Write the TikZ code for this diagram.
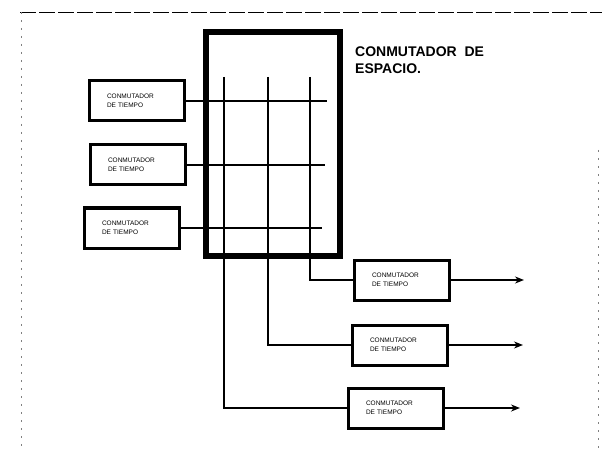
\documentclass[tikz,border=0pt]{standalone}
\usepackage{fontspec}
\setmainfont{Liberation Sans}
\usetikzlibrary{arrows.meta,calc,positioning}
\tikzset{
  tbox/.style={draw,rectangle,line width=3pt,minimum width=95pt,minimum height=40pt,text width=60pt,align=left,inner sep=0pt,font=\fontsize{6.5}{8.5}\selectfont},
  sbox/.style={draw,rectangle,line width=6pt,minimum width=134pt,minimum height=224pt},
  wire/.style={line width=2.6pt},
  frame/.style={line width=0.9pt}
}

\begin{document}
\begin{tikzpicture}[x=1pt,y=-1pt,>={Stealth[length=9pt,width=7pt]}]
  \useasboundingbox (0,0) rectangle (602,449);
  % scanned page border
  \draw[frame,dash pattern=on 16pt off 3pt] (20,12) -- (602,12);
  \draw[frame,gray,dash pattern=on 2pt off 6pt] (21,12) -- (21,449);
  \draw[frame,gray,dash pattern=on 2pt off 6pt] (598,150) -- (598,449);
  % space switch
  \node[sbox] (esp) at (273,144) {};
  \node[anchor=north west,align=left,inner sep=0pt,font=\fontsize{14}{17}\selectfont\bfseries] (titulo) at (355,47) {CONMUTADOR\ \ DE\\ESPACIO.};
  % input time switches
  \node[tbox] (ti1) at (137,101) {CONMUTADOR\\DE TIEMPO};
  \node[tbox] (ti2) at (138,165) {CONMUTADOR\\DE TIEMPO};
  \node[tbox] (ti3) at (132,228) {CONMUTADOR\\DE TIEMPO};
  \coordinate (h1) at (327,101);
  \coordinate (h2) at (325,165);
  \coordinate (h3) at (322,228);
  % output time switches
  \node[tbox] (to1) at (402,280) {CONMUTADOR\\DE TIEMPO};
  \node[tbox] (to2) at (400,345) {CONMUTADOR\\DE TIEMPO};
  \node[tbox] (to3) at (396,408) {CONMUTADOR\\DE TIEMPO};
  \coordinate (s1) at (524,280);
  \coordinate (s2) at (523,345);
  \coordinate (s3) at (520,408);
  % crosspoint columns
  \coordinate (v1) at (224,77);
  \coordinate (v2) at (268,77);
  \coordinate (v3) at (310,77);
  \draw[wire] (ti1.east) -- (h1);
  \draw[wire] (ti2.east) -- (h2);
  \draw[wire] (ti3.east) -- (h3);
  \draw[wire] (v3) |- (to1.west);
  \draw[wire] (v2) |- (to2.west);
  \draw[wire] (v1) |- (to3.west);
  \draw[wire,->] (to1.east) -- (s1);
  \draw[wire,->] (to2.east) -- (s2);
  \draw[wire,->] (to3.east) -- (s3);
\end{tikzpicture}
\end{document}
